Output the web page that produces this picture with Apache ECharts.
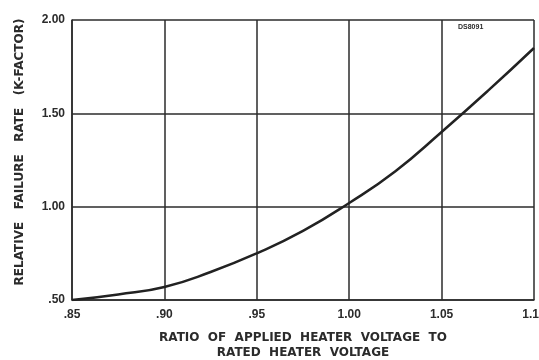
<!DOCTYPE html>
<html>
<head>
<meta charset="utf-8">
<script src="https://cdn.jsdelivr.net/npm/echarts@6/dist/echarts.min.js"></script>
<style>
  html, body { margin: 0; padding: 0; background: #fff; }
  #chart { width: 539px; height: 360px; }
</style>
</head>
<body>
<div id="chart"></div>
<script>
// voltage ratio vs relative failure rate
var voltageRatio = [0.85, 0.875, 0.90, 0.925, 0.95, 0.975, 1.00, 1.025, 1.05, 1.075, 1.10];
var failureRate = [0.50, 0.53, 0.57, 0.65, 0.75, 0.87, 1.02, 1.19, 1.40, 1.62, 1.85];
var xTicks = ['.85', '.90', '.95', '1.00', '1.05', '1.10'];
var yTicks = { '0.5': '.50', '1': '1.00', '1.5': '1.50', '2': '2.00' };

var ink = '#2b2b2b';
var font = 'Liberation Sans';
var titleFont = 'DejaVu Sans';

var chart = echarts.init(document.getElementById('chart'));
chart.setOption({
  animation: false,
  grid: { left: 72, right: 5, top: 20, bottom: 60, outerBoundsMode: 'none' },
  xAxis: {
    type: 'value',
    min: 0.85,
    max: 1.10,
    interval: 0.05,
    name: 'RATIO  OF  APPLIED  HEATER  VOLTAGE  TO\nRATED  HEATER  VOLTAGE',
    nameLocation: 'middle',
    nameGap: 30,
    nameTextStyle: { color: ink, fontFamily: titleFont, fontWeight: 'bold', fontSize: 12, lineHeight: 15, padding: [0, 0, 0, 0] },
    axisLine: { lineStyle: { color: ink, width: 1.5 } },
    axisTick: { show: false },
    splitLine: { lineStyle: { color: ink, width: 1.5 } },
    axisLabel: {
      color: ink, fontFamily: font, fontWeight: 'bold', fontSize: 12, margin: 9,
      formatter: function (v) { return xTicks[Math.round((v - 0.85) / 0.05)]; }
    }
  },
  yAxis: {
    type: 'value',
    min: 0.5,
    max: 2.0,
    interval: 0.5,
    name: 'RELATIVE   FAILURE   RATE   (K-FACTOR)',
    nameLocation: 'middle',
    nameGap: 46,
    nameTextStyle: { color: ink, fontFamily: titleFont, fontWeight: 'bold', fontSize: 12, padding: [0, 0, 0, 16] },
    axisLine: { show: true, lineStyle: { color: ink, width: 1.5 } },
    axisTick: { show: false },
    splitLine: { lineStyle: { color: ink, width: 1.5 } },
    axisLabel: {
      color: ink, fontFamily: font, fontWeight: 'bold', fontSize: 12, margin: 7,
      formatter: function (v) { return yTicks[String(v)]; }
    }
  },
  graphic: [{
    type: 'text',
    left: 458,
    top: 24,
    style: { text: 'DS8091', fill: ink, font: 'bold 7px ' + font }
  }],
  series: [{
    type: 'line',
    smooth: true,
    symbol: 'none',
    lineStyle: { color: '#222', width: 2.5 },
    data: voltageRatio.map(function (x, i) { return [x, failureRate[i]]; })
  }]
});
</script>
</body>
</html>
